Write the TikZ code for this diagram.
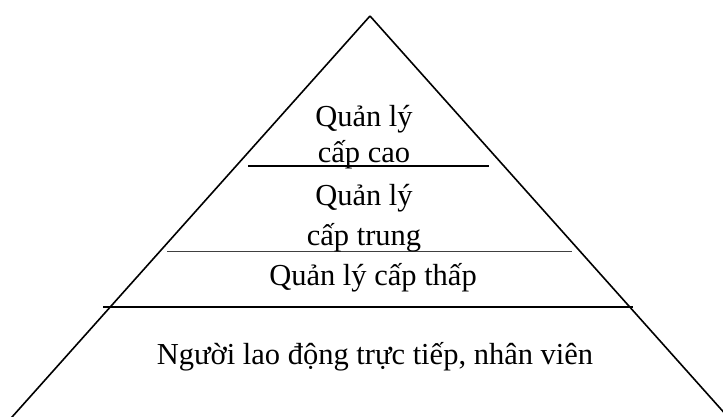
\documentclass[tikz,border=0pt]{standalone}
\usepackage{fontspec}
\setmainfont{Liberation Serif}
\begin{document}
\begin{tikzpicture}[x=1pt,y=-1pt,
  lbl/.style={font=\fontsize{30.5}{36}\selectfont, inner sep=0pt, anchor=base},
  edge/.style={line width=1.6pt, black}]
\useasboundingbox (0,0) rectangle (723,417);
% title, cut off at the top edge as in the reference: only its descenders show
\node[font=\fontsize{30.5}{36}\selectfont\bfseries, inner sep=0pt, anchor=base west] (title) at (352,-6) {Các cấp quản lý};
% pyramid
\coordinate (apex) at (370,16);
\coordinate (bl) at (4,426);
\coordinate (br) at (736,426);
\draw[edge] (apex) -- (bl);
\draw[edge] (apex) -- (br);
% level separators
\coordinate (s1l) at (248,166); \coordinate (s1r) at (489,166);
\coordinate (s2l) at (167,251); \coordinate (s2r) at (572,251);
\coordinate (s3l) at (103,307); \coordinate (s3r) at (633,307);
\draw[line width=1.4pt] (s1l) -- (s1r);
\draw[line width=0.9pt, black!75] (s2l) -- (s2r);
\draw[line width=2pt] (s3l) -- (s3r);
% labels
\node[lbl] (t1a) at (364,127) {Quản lý};
\node[lbl] (t1b) at (364,163) {cấp cao};
\node[lbl] (t2a) at (364,205) {Quản lý};
\node[lbl] (t2b) at (364,245) {cấp trung};
\node[lbl] (t3) at (373,285) {Quản lý cấp thấp};
\node[lbl] (t4) at (375,364) {Người lao động trực tiếp, nhân viên};
\end{tikzpicture}
\end{document}
